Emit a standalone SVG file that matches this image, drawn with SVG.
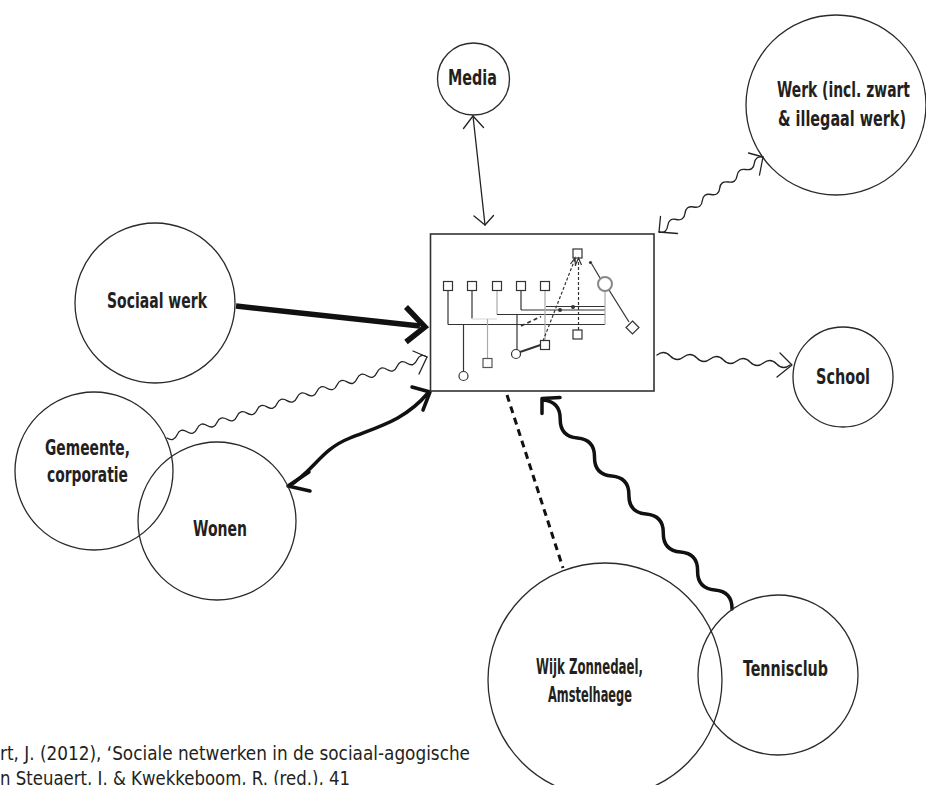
<svg xmlns="http://www.w3.org/2000/svg" width="926" height="785" viewBox="0 0 926 785">
<defs>
<style>
.node{fill:none;stroke:#2a2a2a;stroke-width:1.3}
.lbl{font-family:"DejaVu Sans Condensed","DejaVu Sans","Liberation Sans",sans-serif;font-weight:bold;font-size:16px;fill:#231f20}
.thin{fill:none;stroke:#222;stroke-width:1.3;stroke-linecap:round;stroke-linejoin:round}
.thick{fill:none;stroke:#111;stroke-width:3.5;stroke-linecap:round;stroke-linejoin:round}
.heavy{fill:none;stroke:#111;stroke-width:5.5;stroke-linecap:butt;stroke-linejoin:miter}
.dash{fill:none;stroke:#111;stroke-width:3;stroke-dasharray:7 5}
.in{fill:none;stroke:#333;stroke-width:1.2}
.ing{fill:none;stroke:#aaa;stroke-width:1.2}
.box{fill:#fff;stroke:#333;stroke-width:1.6}
.cite{font-family:"DejaVu Sans Condensed","Liberation Sans",sans-serif;font-size:19px;fill:#231f20}
</style>
</defs>
<rect width="926" height="785" fill="#fff"/>

<g id="connectors">
  <!-- Media <-> box -->
  <line class="thin" x1="473" y1="116" x2="485" y2="225"/>
  <polyline class="thin" points="463.5,128.5 473,116 483.5,127.5"/>
  <polyline class="thin" points="474,216 485,225 493.5,215.5"/>
  <!-- Werk <-> box -->
  <path class="thin" d="M659,232 Q666.8,233.8 667.7,225.8 T676.3,219.5 T685,213.3 T693.7,207 T702.3,200.8 T711,194.5 T719.7,188.3 T728.3,182 T737,175.8 T745.7,169.5 T754.3,163.3 T763,157"/>
  <polyline class="thin" points="660.5,216.5 659,232 677.5,233.5"/>
  <polyline class="thin" points="748.5,153 763,157 759.5,175"/>
  <!-- Sociaal werk -> box -->
  <line class="heavy" x1="236" y1="306" x2="420" y2="326"/>
  <polyline class="heavy" points="406,307 425,327 406,342"/>
  <!-- Gemeente -> box -->
  <path class="thin" d="M167,438 Q173.8,442.2 177,434.9 T187,431.8 T197,428.7 T207,425.5 T217,422.4 T227,419.3 T237,416.2 T247,413.1 T257,410 T267,406.9 T277,403.7 T287,400.6 T297,397.5 T307,394.4 T317,391.3 T327,388.2 T337,385 T347,381.9 T357,378.8 T367,375.7 T377,372.6 T387,369.5 T397,366.4 T407,363.2 T417,360.1 T427,357"/>
  <polyline class="thin" points="413,351 427,357 419,374"/>
  <!-- Wonen <-> box -->
  <path class="thick" d="M289,486 C315,470 320,450 350,438 S405,420 428,393"/>
  <polyline class="thick" points="412,387 430,392 423,410"/>
  <polyline class="thick" points="309,472 288,486 310,491"/>
  <!-- box -> School -->
  <path class="thin" d="M657,355 Q664.1,349.5 670.3,356 T683.6,357 T696.9,358 T710.2,359 T723.5,360 T736.8,361 T750.1,362 T763.4,363 T776.7,364 T790,365"/>
  <polyline class="thin" points="780,353 792,365 777,377"/>
  <!-- box - Wijk (dashed) -->
  <line class="dash" x1="507" y1="395" x2="563" y2="568"/>
  <!-- Tennisclub -> box -->
  <path class="thick" d="M732,609 Q732.3,591.5 714.8,590 T697.6,571 T680.5,552 T663.3,533 T646.1,514 T628.9,495 T611.7,476 T594.5,457 T577.4,438 T560.2,419 T543,400"/>
  <polyline class="thick" points="560,397.5 542,398.5 542,413.5"/>
</g>

<g id="media">
  <circle class="node" cx="473.5" cy="79" r="36"/>
  <text class="lbl" transform="matrix(1,0,0,1.3,448,85)" textLength="49" lengthAdjust="spacingAndGlyphs">Media</text>
</g>

<g id="werk">
  <circle class="node" cx="836" cy="105" r="90"/>
  <text class="lbl" transform="matrix(1,0,0,1.3,777,97)" textLength="133" lengthAdjust="spacingAndGlyphs">Werk (incl. zwart</text>
  <text class="lbl" transform="matrix(1,0,0,1.3,778,126)" textLength="128" lengthAdjust="spacingAndGlyphs">&amp; illegaal werk)</text>
</g>

<g id="sociaal-werk">
  <circle class="node" cx="155" cy="303" r="80"/>
  <text class="lbl" transform="matrix(1,0,0,1.3,107,308)" textLength="100" lengthAdjust="spacingAndGlyphs">Sociaal werk</text>
</g>

<g id="gemeente">
  <circle class="node" cx="94" cy="471" r="79"/>
  <text class="lbl" transform="matrix(1,0,0,1.3,45,455)" textLength="85" lengthAdjust="spacingAndGlyphs">Gemeente,</text>
  <text class="lbl" transform="matrix(1,0,0,1.3,47,482)" textLength="81" lengthAdjust="spacingAndGlyphs">corporatie</text>
</g>

<g id="wonen">
  <circle class="node" cx="217" cy="521" r="79"/>
  <text class="lbl" transform="matrix(1,0,0,1.3,193,536)" textLength="54" lengthAdjust="spacingAndGlyphs">Wonen</text>
</g>

<g id="school">
  <circle class="node" cx="843" cy="377" r="50"/>
  <text class="lbl" transform="matrix(1,0,0,1.3,816,384)" textLength="54" lengthAdjust="spacingAndGlyphs">School</text>
</g>

<g id="wijk">
  <circle class="node" cx="605" cy="680" r="117"/>
  <text class="lbl" transform="matrix(1,0,0,1.3,536,674)" textLength="107" lengthAdjust="spacingAndGlyphs">Wijk Zonnedael,</text>
  <text class="lbl" transform="matrix(1,0,0,1.3,548,702)" textLength="84" lengthAdjust="spacingAndGlyphs">Amstelhaege</text>
</g>

<g id="tennisclub">
  <circle class="node" cx="778" cy="675" r="80"/>
  <text class="lbl" transform="matrix(1,0,0,1.3,743,676)" textLength="85" lengthAdjust="spacingAndGlyphs">Tennisclub</text>
</g>

<g id="netwerk">
  <rect class="box" x="430.5" y="234" width="223.5" height="157"/>
  <line class="in" x1="448" y1="290.5" x2="448" y2="324.5"/>
  <line class="in" x1="448" y1="324.5" x2="605" y2="324.5"/>
  <line class="in" x1="472" y1="290.5" x2="472" y2="318.5"/>
  <line class="ing" x1="472" y1="319" x2="497" y2="319" style="stroke:#ddd"/>
  <line class="ing" x1="497" y1="290.5" x2="497" y2="314.5"/>
  <line class="in" x1="497" y1="314.5" x2="605" y2="314.5"/>
  <line class="in" x1="521" y1="290.5" x2="521" y2="310"/>
  <line class="in" x1="521" y1="310" x2="605" y2="310"/>
  <line class="ing" x1="545" y1="290.5" x2="545" y2="340.5"/>
  <line class="in" x1="546" y1="306.5" x2="605" y2="306.5"/>
  <line class="in" x1="463.5" y1="324.5" x2="463.5" y2="371.5"/>
  <line class="ing" x1="487.5" y1="319" x2="487.5" y2="358.5"/>
  <line class="in" x1="517" y1="314.5" x2="517" y2="349.5"/>
  <line class="ing" x1="605" y1="291" x2="605" y2="324.5"/>
  <line class="in" x1="609" y1="290" x2="629" y2="322"/>
  <line class="in" x1="600" y1="278" x2="591.5" y2="263.5"/>
  <circle cx="590.5" cy="262.5" r="1.6" fill="#333"/>
  <line class="in" x1="543" y1="341" x2="575" y2="259" stroke-dasharray="3 2"/>
  <line class="in" x1="578.5" y1="330" x2="578.5" y2="259" stroke-dasharray="3 2"/>
  <polyline class="in" points="570.5,264 575,258 575.5,266"/>
  <polyline class="in" points="575.5,265 578.5,258 581.5,265"/>
  <line class="in" x1="521" y1="326" x2="541" y2="316.5" stroke-dasharray="4 3" style="stroke-width:1.8"/>
  <line class="in" x1="520" y1="352" x2="540.5" y2="345" style="stroke-width:2"/>
  <circle cx="560" cy="310" r="2" fill="#333"/>
  <circle cx="573" cy="307" r="2" fill="#333"/>
  <rect class="in" x="443.5" y="281.5" width="9" height="9" fill="#fff"/>
  <rect class="in" x="467.5" y="281.5" width="9" height="9" fill="#fff"/>
  <rect class="in" x="492.5" y="281.5" width="9" height="9" fill="#fff"/>
  <rect class="in" x="516.5" y="281.5" width="9" height="9" fill="#fff"/>
  <rect class="in" x="540.5" y="281.5" width="9" height="9" fill="#fff"/>
  <rect class="in" x="573" y="249" width="9" height="9" fill="#fff"/>
  <rect class="in" x="573" y="330" width="9" height="9" fill="#fff"/>
  <rect class="in" x="540.5" y="340.5" width="9" height="9" fill="#fff"/>
  <rect class="in" x="483" y="358.5" width="9" height="9" fill="#fff" style="stroke:#555"/>
  <circle class="in" cx="463.5" cy="376" r="4.5" fill="#fff"/>
  <circle class="in" cx="516" cy="354" r="4.5" fill="#fff"/>
  <circle cx="605" cy="284" r="7" fill="#fff" stroke="#888" stroke-width="2"/>
  <polygon class="in" points="632.5,321 639,327.5 632.5,334 626,327.5" fill="#fff"/>
</g>

<g id="citation">
  <text class="cite" x="0" y="760" textLength="470" lengthAdjust="spacingAndGlyphs">rt, J. (2012), ‘Sociale netwerken in de sociaal-agogische</text>
  <text class="cite" x="0" y="785" textLength="350" lengthAdjust="spacingAndGlyphs">n Steuaert, J. &amp; Kwekkeboom, R. (red.), 41</text>
</g>
</svg>
